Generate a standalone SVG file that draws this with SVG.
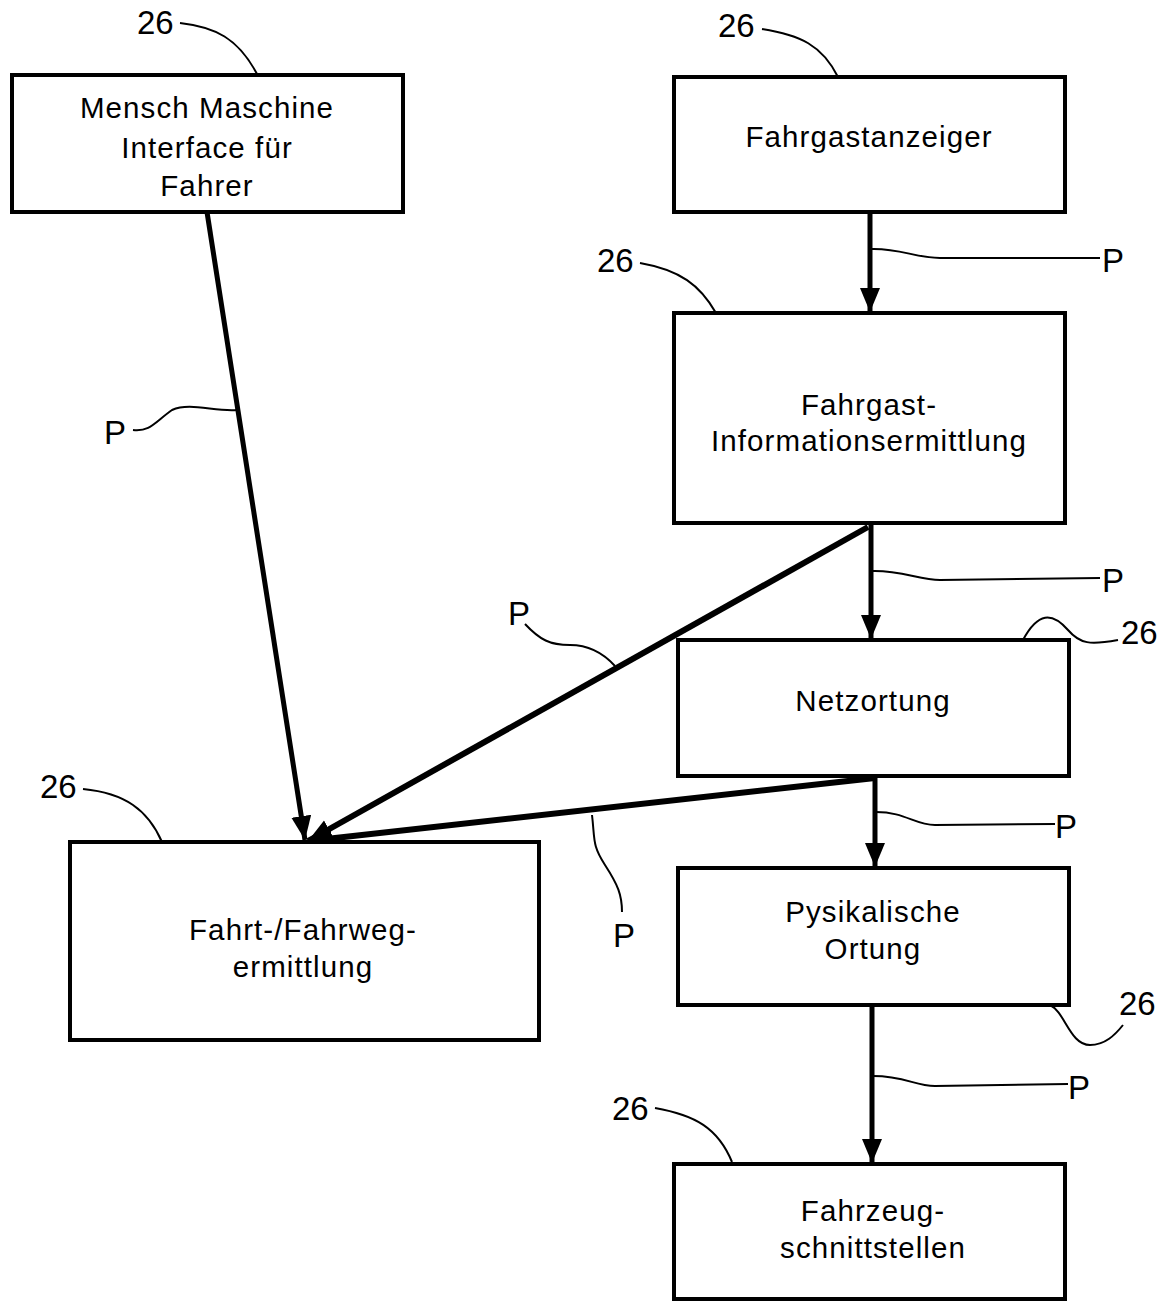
<svg xmlns="http://www.w3.org/2000/svg" width="1169" height="1301" viewBox="0 0 1169 1301">
<style>
.box{fill:#fff;stroke:#000;stroke-width:4}
.t{font-family:"Liberation Sans",Arial,sans-serif;font-size:29.5px;letter-spacing:1.1px;text-anchor:middle;fill:#000}
.l{font-family:"Liberation Sans",Arial,sans-serif;font-size:33px;fill:#000}
.lead{fill:none;stroke:#000;stroke-width:2}
.c{fill:none;stroke:#000;stroke-width:5}
.d{fill:none;stroke:#000;stroke-width:6}
</style>
<defs>
<marker id="ah" markerUnits="userSpaceOnUse" markerWidth="26" markerHeight="22" refX="24" refY="10" orient="auto">
<path d="M0,0 L24,10 L0,20 Z" fill="#000"/>
</marker>
</defs>
<rect width="1169" height="1301" fill="#fff"/>
<g id="connectors">
<line class="c" x1="207" y1="212" x2="305" y2="840" marker-end="url(#ah)"/>
<line class="c" x1="870" y1="212" x2="870" y2="312" marker-end="url(#ah)"/>
<line class="c" x1="871" y1="525" x2="871" y2="639" marker-end="url(#ah)"/>
<line class="d" x1="868" y1="527" x2="308" y2="841" marker-end="url(#ah)"/>
<line class="d" x1="875" y1="778" x2="308" y2="841" marker-end="url(#ah)"/>
<line class="c" x1="875" y1="777" x2="875" y2="867" marker-end="url(#ah)"/>
<line class="c" x1="872" y1="1006" x2="872" y2="1163" marker-end="url(#ah)"/>
</g>
<g id="mmi">
<rect class="box" x="12" y="75" width="391" height="137"/>
<text class="t" x="207" y="118">Mensch Maschine</text>
<text class="t" x="207" y="158">Interface für</text>
<text class="t" x="207" y="196">Fahrer</text>
</g>
<g id="fahrgastanzeiger">
<rect class="box" x="674" y="77" width="391" height="135"/>
<text class="t" x="869" y="147">Fahrgastanzeiger</text>
</g>
<g id="fahrgastinfo">
<rect class="box" x="674" y="313" width="391" height="210"/>
<text class="t" x="869" y="415">Fahrgast-</text>
<text class="t" x="869" y="451">Informationsermittlung</text>
</g>
<g id="netzortung">
<rect class="box" x="678" y="640" width="391" height="136"/>
<text class="t" x="873" y="711">Netzortung</text>
</g>
<g id="fahrtermittlung">
<rect class="box" x="70" y="842" width="469" height="198"/>
<text class="t" x="303" y="940">Fahrt-/Fahrweg-</text>
<text class="t" x="303" y="977">ermittlung</text>
</g>
<g id="physortung">
<rect class="box" x="678" y="868" width="391" height="137"/>
<text class="t" x="873" y="922">Pysikalische</text>
<text class="t" x="873" y="959">Ortung</text>
</g>
<g id="fahrzeug">
<rect class="box" x="674" y="1164" width="391" height="135"/>
<text class="t" x="873" y="1221">Fahrzeug-</text>
<text class="t" x="873" y="1258">schnittstellen</text>
</g>
<g id="labels">
<text class="l" x="137" y="34">26</text>
<path class="lead" d="M180,23 C215,27 238,38 257,74"/>
<text class="l" x="718" y="37">26</text>
<path class="lead" d="M762,29 C800,35 822,45 838,77"/>
<text class="l" x="597" y="272">26</text>
<path class="lead" d="M640,263 C680,270 700,285 716,313"/>
<text class="l" x="1121" y="644">26</text>
<path class="lead" d="M1023,640 C1038,612 1052,612 1068,630 C1080,644 1090,645 1118,640"/>
<text class="l" x="1119" y="1015">26</text>
<path class="lead" d="M1050,1005 C1065,1012 1070,1045 1090,1045 C1105,1045 1115,1035 1123,1025"/>
<text class="l" x="40" y="798">26</text>
<path class="lead" d="M83,789 C125,793 148,810 162,842"/>
<text class="l" x="612" y="1120">26</text>
<path class="lead" d="M655,1108 C695,1115 718,1128 732,1162"/>
<text class="l" x="104" y="444">P</text>
<path class="lead" d="M133,430 C150,432 155,422 172,410 C190,402 215,412 237,410"/>
<text class="l" x="1102" y="272">P</text>
<path class="lead" d="M871,249 C900,248 915,258 940,258 L1100,258"/>
<text class="l" x="1102" y="592">P</text>
<path class="lead" d="M872,571 C900,570 920,580 940,580 L1100,578"/>
<text class="l" x="508" y="625">P</text>
<path class="lead" d="M525,624 C540,640 550,645 570,645 C590,645 605,655 615,666"/>
<text class="l" x="1055" y="838">P</text>
<path class="lead" d="M876,812 C905,812 915,825 935,825 L1055,824"/>
<text class="l" x="613" y="947">P</text>
<path class="lead" d="M592,815 C595,840 592,845 605,865 C618,885 622,895 622,912"/>
<text class="l" x="1068" y="1099">P</text>
<path class="lead" d="M873,1076 C905,1076 915,1086 935,1086 L1068,1084"/>
</g>
</svg>
